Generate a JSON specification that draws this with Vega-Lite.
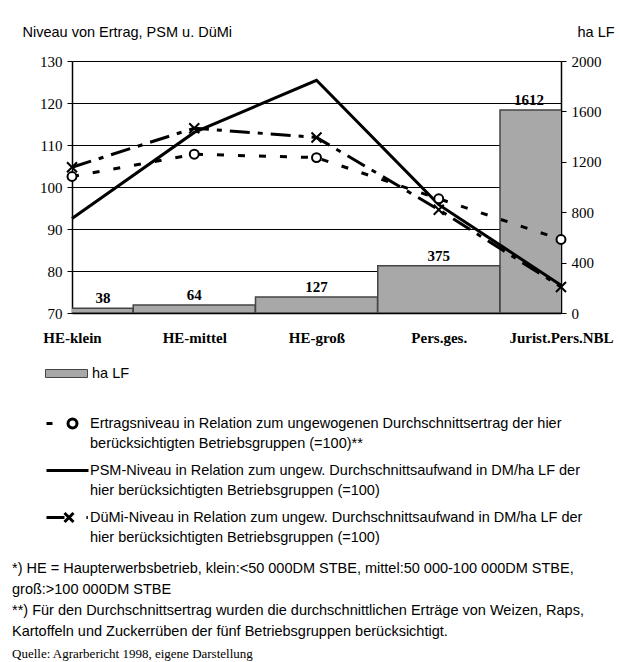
{
  "$schema": "https://vega.github.io/schema/vega-lite/v6.json",
  "autosize": {"type": "none"},
  "width": 489,
  "height": 252,
  "padding": {"left": 72, "top": 61, "right": 59, "bottom": 349},
  "background": "white",
  "datasets": {
    "flaeche": [
      {"Gruppe": "HE-klein", "ha": 38, "Maß": "ha LF"},
      {"Gruppe": "HE-mittel", "ha": 64, "Maß": "ha LF"},
      {"Gruppe": "HE-groß", "ha": 127, "Maß": "ha LF"},
      {"Gruppe": "Pers.ges.", "ha": 375, "Maß": "ha LF"},
      {"Gruppe": "Jurist.Pers.NBL", "ha": 1612, "Maß": "ha LF"}
    ],
    "niveau": [
      {"Gruppe": "HE-klein", "Reihe": "Ertrag", "Wert": 102.5},
      {"Gruppe": "HE-mittel", "Reihe": "Ertrag", "Wert": 107.8},
      {"Gruppe": "HE-groß", "Reihe": "Ertrag", "Wert": 107.0},
      {"Gruppe": "Pers.ges.", "Reihe": "Ertrag", "Wert": 97.2},
      {"Gruppe": "Jurist.Pers.NBL", "Reihe": "Ertrag", "Wert": 87.5},
      {"Gruppe": "HE-klein", "Reihe": "PSM", "Wert": 92.5},
      {"Gruppe": "HE-mittel", "Reihe": "PSM", "Wert": 113.0},
      {"Gruppe": "HE-groß", "Reihe": "PSM", "Wert": 125.4},
      {"Gruppe": "Pers.ges.", "Reihe": "PSM", "Wert": 95.8},
      {"Gruppe": "Jurist.Pers.NBL", "Reihe": "PSM", "Wert": 76.6},
      {"Gruppe": "HE-klein", "Reihe": "DüMi", "Wert": 104.7},
      {"Gruppe": "HE-mittel", "Reihe": "DüMi", "Wert": 114.0},
      {"Gruppe": "HE-groß", "Reihe": "DüMi", "Wert": 111.8},
      {"Gruppe": "Pers.ges.", "Reihe": "DüMi", "Wert": 94.6},
      {"Gruppe": "Jurist.Pers.NBL", "Reihe": "DüMi", "Wert": 76.2}
    ]
  },
  "title": {
    "text": [
      "*) HE = Haupterwerbsbetrieb, klein:<50 000DM STBE, mittel:50 000-100 000DM STBE,",
      "\u00a0\u00a0\u00a0\u00a0groß:>100 000DM STBE",
      "**) Für den Durchschnittsertrag wurden die durchschnittlichen Erträge von Weizen, Raps,",
      "\u00a0\u00a0\u00a0\u00a0\u00a0Kartoffeln und Zuckerrüben der fünf Betriebsgruppen berücksichtigt."
    ],
    "subtitle": "Quelle: Agrarbericht 1998, eigene Darstellung",
    "orient": "bottom",
    "anchor": "start",
    "frame": "group",
    "dx": -60,
    "offset": 17,
    "font": "Liberation Sans",
    "fontSize": 14.5,
    "fontWeight": "normal",
    "color": "black",
    "lineHeight": 21,
    "subtitleFont": "Liberation Serif",
    "subtitleFontSize": 13,
    "subtitleFontStyle": "normal",
    "subtitleColor": "black",
    "subtitlePadding": 8
  },
  "layer": [
    {
      "data": {"name": "flaeche"},
      "encoding": {
        "x": {
          "field": "Gruppe", "type": "nominal", "sort": null,
          "scale": {"type": "point", "padding": 0, "domain": ["HE-klein", "HE-mittel", "HE-groß", "Pers.ges.", "Jurist.Pers.NBL"]},
          "axis": {"title": null, "ticks": false, "grid": false, "domainColor": "black", "domainWidth": 1.5, "labelFont": "Liberation Serif", "labelFontWeight": "bold", "labelFontSize": 15, "labelColor": "black", "labelPadding": 17, "labelAngle": 0}
        },
        "y": {
          "field": "ha", "type": "quantitative",
          "scale": {"domain": [0, 2000], "nice": false},
          "axis": {"orient": "right", "values": [0, 400, 800, 1200, 1600, 2000], "format": "d", "grid": false, "title": "ha LF", "titleAngle": 0, "titleAlign": "left", "titleBaseline": "middle", "titleX": 16, "titleY": -29, "titleFont": "Liberation Sans", "titleFontSize": 14.5, "titleFontWeight": "normal", "titleColor": "black", "domainColor": "black", "domainWidth": 1.5, "tickColor": "black", "tickSize": 5, "labelFont": "Liberation Serif", "labelFontSize": 15, "labelColor": "black", "labelPadding": 5}
        }
      },
      "layer": [
        {
          "mark": {"type": "bar", "size": 122, "clip": true, "stroke": "#444444", "strokeWidth": 1.5},
          "encoding": {
            "fill": {
              "field": "Maß", "type": "nominal",
              "scale": {"range": ["#a8a8a8"]},
              "legend": {"orient": "none", "legendX": -27, "legendY": 291, "title": null, "padding": 0, "symbolType": "M-1,-0.19H1V0.19H-1Z", "symbolSize": 1764, "symbolStrokeColor": "#444444", "symbolStrokeWidth": 1, "labelFont": "Liberation Sans", "labelFontSize": 14.5, "labelColor": "black", "labelOffset": 4}
            }
          }
        },
        {
          "transform": [{"filter": {"field": "Gruppe", "oneOf": ["HE-mittel", "HE-groß", "Pers.ges."]}}],
          "mark": {"type": "text", "font": "Liberation Serif", "fontWeight": "bold", "fontSize": 15, "baseline": "bottom", "dy": -2, "color": "black"},
          "encoding": {"text": {"field": "ha", "type": "quantitative"}}
        },
        {
          "transform": [{"filter": {"field": "Gruppe", "equal": "HE-klein"}}],
          "mark": {"type": "text", "font": "Liberation Serif", "fontWeight": "bold", "fontSize": 15, "baseline": "bottom", "dy": -2, "dx": 31, "color": "black"},
          "encoding": {"text": {"field": "ha", "type": "quantitative"}}
        },
        {
          "transform": [{"filter": {"field": "Gruppe", "equal": "Jurist.Pers.NBL"}}],
          "mark": {"type": "text", "font": "Liberation Serif", "fontWeight": "bold", "fontSize": 15, "baseline": "bottom", "dy": -2, "dx": -32, "color": "black"},
          "encoding": {"text": {"field": "ha", "type": "quantitative", "format": "d"}}
        }
      ]
    },
    {
      "data": {"name": "niveau"},
      "encoding": {
        "x": {
          "field": "Gruppe", "type": "nominal", "sort": null,
          "scale": {"type": "point", "padding": 0, "domain": ["HE-klein", "HE-mittel", "HE-groß", "Pers.ges.", "Jurist.Pers.NBL"]},
          "axis": {"title": null, "ticks": false, "grid": false, "domainColor": "black", "domainWidth": 1.5, "labelFont": "Liberation Serif", "labelFontWeight": "bold", "labelFontSize": 15, "labelColor": "black", "labelPadding": 17, "labelAngle": 0}
        },
        "y": {
          "field": "Wert", "type": "quantitative",
          "scale": {"domain": [70, 130], "nice": false, "zero": false},
          "axis": {"orient": "left", "values": [70, 80, 90, 100, 110, 120, 130], "grid": true, "gridColor": "black", "gridWidth": 1, "gridOpacity": 1, "title": "Niveau von Ertrag, PSM u. DüMi", "titleAngle": 0, "titleAlign": "left", "titleBaseline": "middle", "titleX": -50, "titleY": -29, "titleFont": "Liberation Sans", "titleFontSize": 14.5, "titleFontWeight": "normal", "titleColor": "black", "domainColor": "black", "domainWidth": 1.5, "tickColor": "black", "tickSize": 5, "labelFont": "Liberation Serif", "labelFontSize": 15, "labelColor": "black", "labelPadding": 5}
        }
      },
      "layer": [
        {
          "transform": [{"filter": {"field": "Reihe", "equal": "Ertrag"}}],
          "mark": {"type": "line", "color": "black", "strokeWidth": 3, "strokeDash": [7, 14]}
        },
        {
          "transform": [{"filter": {"field": "Reihe", "equal": "PSM"}}],
          "mark": {"type": "line", "color": "black", "strokeWidth": 3}
        },
        {
          "transform": [{"filter": {"field": "Reihe", "equal": "DüMi"}}],
          "mark": {"type": "line", "color": "black", "strokeWidth": 3, "strokeDash": [20, 8, 5, 8]}
        },
        {
          "transform": [{"filter": {"field": "Reihe", "equal": "Ertrag"}}],
          "mark": {"type": "point", "shape": "circle", "size": 80, "filled": true, "fill": "white", "stroke": "black", "strokeWidth": 2, "opacity": 1}
        },
        {
          "transform": [{"filter": {"field": "Reihe", "equal": "DüMi"}}],
          "mark": {"type": "point", "shape": "M-1,-1L1,1M-1,1L1,-1", "size": 100, "filled": false, "stroke": "black", "strokeWidth": 2, "opacity": 1}
        },
        {
          "mark": {"type": "point", "color": "black", "filled": false, "strokeWidth": 3, "size": 0, "opacity": 1},
          "encoding": {
            "shape": {
              "field": "Reihe", "type": "nominal",
              "scale": {
                "domain": ["Ertrag", "PSM", "DüMi"],
                "range": [
                  "M-1.167,0H-0.833M0.528,0A0.25,0.25,0,1,1,0.028,0A0.25,0.25,0,1,1,0.528,0Z",
                  "M-1.167,0H1.167",
                  "M-1.167,0H-0.167M-0.167,-0.25L0.333,0.25M-0.167,0.25L0.333,-0.25M1.05,0H1.13"
                ]
              },
              "legend": {
                "orient": "none", "legendX": -24, "legendY": 343, "title": null, "padding": 0,
                "symbolSize": 1296, "symbolStrokeColor": "black", "symbolStrokeWidth": 3, "symbolFillColor": "white", "symbolOpacity": 1,
                "labelFont": "Liberation Sans", "labelFontSize": 14.5, "labelColor": "black", "labelOffset": 3, "labelLimit": 1000, "rowPadding": 0,
                "labelExpr": "datum.label == 'Ertrag' ? ['Ertragsniveau in Relation zum ungewogenen Durchschnittsertrag der hier', 'berücksichtigten Betriebsgruppen (=100)**'] : datum.label == 'PSM' ? ['PSM-Niveau in Relation zum ungew. Durchschnittsaufwand in DM/ha LF der', 'hier berücksichtigten Betriebsgruppen (=100)'] : ['DüMi-Niveau in Relation zum ungew. Durchschnittsaufwand in DM/ha LF der', 'hier berücksichtigten Betriebsgruppen (=100)']",
                "encode": {"labels": {"update": {"lineHeight": {"value": 20.5}}}}
              }
            }
          }
        }
      ]
    }
  ],
  "resolve": {"scale": {"y": "independent"}},
  "config": {
    "view": {"stroke": null},
    "font": "Liberation Sans",
    "style": {"guide-label": {"lineHeight": 20.5}}
  }
}
